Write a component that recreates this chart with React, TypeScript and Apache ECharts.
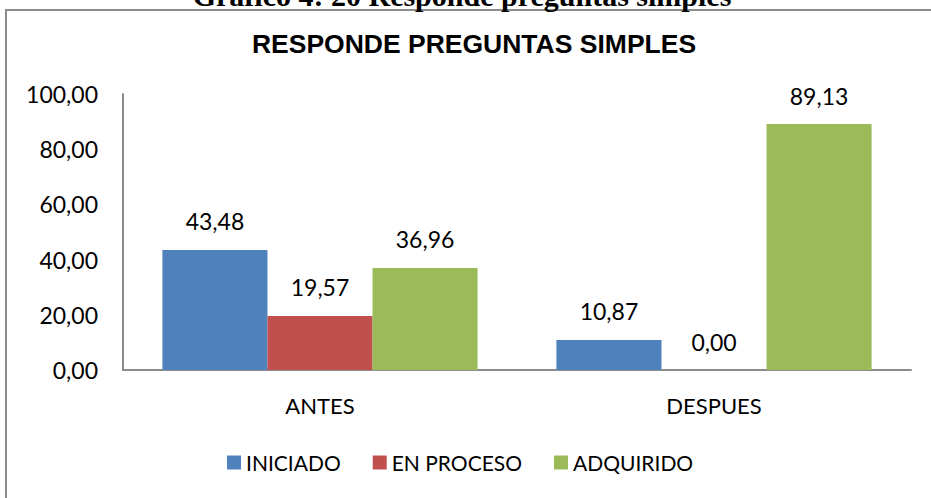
import React, { useEffect, useRef } from "react";
import * as echarts from "echarts";

const categories = ["ANTES", "DESPUES"];
const seriesNames = ["INICIADO", "EN PROCESO", "ADQUIRIDO"];
const iniciado = [43.48, 10.87];
const enProceso = [19.57, 0.0];
const adquirido = [36.96, 89.13];
const colors = ["#4F81BD", "#C0504D", "#9BBB59"];
const yTicks = { min: 0, max: 100, interval: 20 };

const fmt = (v: number) => v.toFixed(2).replace(".", ",");

export default function App() {
  const ref = useRef<HTMLDivElement>(null);
  useEffect(() => {
    if (!ref.current) return;
    const chart = echarts.init(ref.current, null, { renderer: "svg" });
    const font = "Lato";
    const values = [iniciado, enProceso, adquirido];
    chart.setOption({
      animation: false,
      backgroundColor: "#ffffff",
      title: {
        text: "RESPONDE PREGUNTAS SIMPLES",
        left: 469,
        textAlign: "center",
        top: 25,
        textStyle: {
          fontFamily: "Liberation Sans",
          fontWeight: "bold",
          fontSize: 26.5,
          color: "#000",
        },
      },
      graphic: [
        {
          type: "rect",
          shape: { x: 6, y: 10, width: 1000, height: 600 },
          style: { fill: "none", stroke: "#8c8c8c", lineWidth: 2 },
          silent: true,
        },
        {
          type: "text",
          x: 462,
          y: -5,
          style: {
            text: "Gráfico 4: 20 Responde preguntas simples",
            fontFamily: "Liberation Serif",
            fontWeight: "bold",
            fontSize: 30,
            fill: "#000",
            align: "center",
            verticalAlign: "middle",
          },
        },
      ],
      legend: {
        data: seriesNames,
        left: 222,
        top: 447,
        itemWidth: 14,
        itemHeight: 14,
        itemGap: 32,
        icon: "rect",
        textStyle: { fontFamily: font, fontSize: 21, color: "#000" },
      },
      grid: { left: 123, right: 20, top: 94, bottom: 128, containLabel: false },
      xAxis: {
        type: "category",
        data: categories,
        axisLine: { lineStyle: { color: "#8c8c8c", width: 2 } },
        axisTick: { show: false },
        axisLabel: { fontFamily: font, fontSize: 22, color: "#000", margin: 24 },
      },
      yAxis: {
        type: "value",
        min: yTicks.min,
        max: yTicks.max,
        interval: yTicks.interval,
        axisLine: { show: true, lineStyle: { color: "#8c8c8c", width: 2 } },
        axisTick: { show: false },
        splitLine: { show: false },
        axisLabel: {
          fontFamily: font,
          fontSize: 23,
          color: "#000",
          margin: 25,
          formatter: (v: number) => fmt(v),
        },
      },
      series: seriesNames.map((name, i) => ({
        name,
        type: "bar",
        data: values[i],
        barGap: "0%",
        barCategoryGap: "20%",
        itemStyle: { color: colors[i] },
        label: {
          show: true,
          position: "top",
          distance: 17,
          fontFamily: font,
          fontSize: 23,
          color: "#000",
          formatter: (p: any) => fmt(p.value),
        },
      })),
    });
    return () => chart.dispose();
  }, []);
  return (
    <div
      ref={ref}
      style={{ position: "fixed", left: 0, top: 0, width: 931, height: 498 }}
    />
  );
}
